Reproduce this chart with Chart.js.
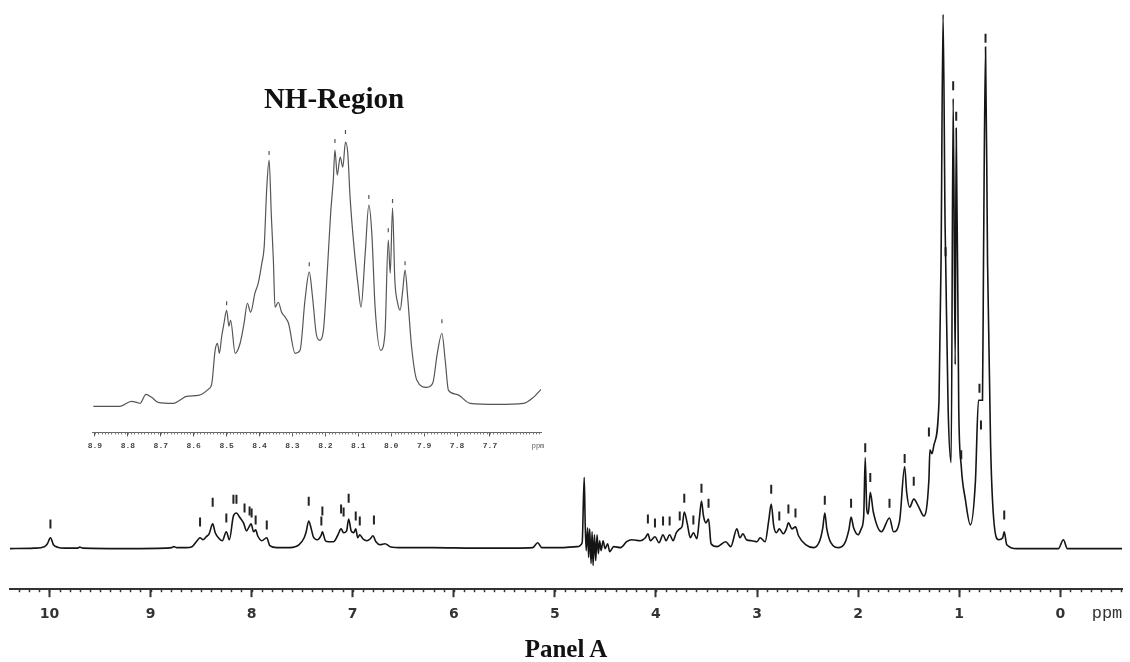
<!DOCTYPE html>
<html>
<head>
<meta charset="utf-8">
<script src="https://cdn.jsdelivr.net/npm/chart.js@4.4.1/dist/chart.umd.min.js"></script>
<style>
  html, body { margin: 0; padding: 0; background: #fff; }
  #wrap { position: relative; width: 1130px; height: 662px; overflow: hidden; }
  canvas { position: absolute; left: 0; top: 0; }
  .lbl { position: absolute; white-space: nowrap; transform: translate(-50%, -50%); }
  #nhTitle { left: 334px; top: 98px; font: bold 29px "Liberation Serif", serif; color: #111; }
  #panelTitle { left: 566px; top: 649px; font: bold 25px "Liberation Serif", serif; color: #111; }
  #ppmMain { left: 1107px; top: 613px; font: 17px "Liberation Mono", monospace; color: #333; }
  #ppmInset { left: 538px; top: 446px; font: 7px "Liberation Mono", monospace; color: #555; }
</style>
</head>
<body>
<div id="wrap">
  <canvas id="mainChart" width="1130" height="662"></canvas>
  <canvas id="insetChart" width="1130" height="662"></canvas>
  <div class="lbl" id="nhTitle">NH-Region</div>
  <div class="lbl" id="ppmInset">ppm</div>
  <div class="lbl" id="ppmMain">ppm</div>
  <div class="lbl" id="panelTitle">Panel A</div>
</div>
<script>
// full spectrum, chemical shift (ppm) and intensity
const mainPpm = [
  10.39, 10.15, 10.05, 10.02, 9.99, 9.96, 9.92, 9.85, 9.72, 9.70, 9.67, 9.2, 8.85, 8.79, 8.77, 8.74,
  8.65, 8.59, 8.54, 8.51, 8.48, 8.45, 8.42, 8.385, 8.36, 8.32, 8.29, 8.25, 8.22, 8.18, 8.15, 8.12,
  8.08, 8.05, 8.025, 8.005, 7.98, 7.96, 7.94, 7.90, 7.85, 7.82, 7.75, 7.62, 7.53, 7.48, 7.46, 7.435,
  7.41, 7.39, 7.35, 7.31, 7.30, 7.27, 7.24, 7.19, 7.15, 7.115, 7.09, 7.06, 7.04, 7.015, 6.99, 6.97,
  6.95, 6.93, 6.90, 6.86, 6.825, 6.80, 6.77, 6.73, 6.68, 6.63, 6.5, 6.2, 5.8, 5.4, 5.22, 5.17, 5.13,
  4.95, 4.78, 4.73, 4.71, 4.70, 4.69, 4.676, 4.666, 4.656, 4.642, 4.632, 4.622, 4.609, 4.596, 4.583,
  4.570, 4.557, 4.543, 4.523, 4.504, 4.478, 4.458, 4.418, 4.35, 4.29, 4.24, 4.155, 4.105, 4.08, 4.055,
  4.01, 3.97, 3.93, 3.90, 3.865, 3.83, 3.80, 3.765, 3.74, 3.72, 3.69, 3.66, 3.63, 3.595, 3.57, 3.55,
  3.53, 3.505, 3.48, 3.455, 3.395, 3.31, 3.26, 3.20, 3.17, 3.14, 3.105, 3.05, 3.00, 2.97, 2.92, 2.885,
  2.86, 2.835, 2.81, 2.78, 2.74, 2.71, 2.69, 2.655, 2.62, 2.59, 2.52, 2.44, 2.38, 2.35, 2.33, 2.31,
  2.27, 2.19, 2.13, 2.09, 2.07, 2.045, 2.00, 1.97, 1.945, 1.93, 1.915, 1.90, 1.88, 1.85, 1.77, 1.69,
  1.65, 1.59, 1.54, 1.52, 1.49, 1.45, 1.40, 1.35, 1.30, 1.29, 1.27, 1.25, 1.20, 1.18, 1.16, 1.14,
  1.135, 1.11, 1.08, 1.06, 1.04, 1.03, 1.005, 0.98, 0.94, 0.89, 0.84, 0.81, 0.77, 0.76, 0.74, 0.72,
  0.69, 0.66, 0.61, 0.57, 0.555, 0.53, 0.43, 0.02, -0.03, -0.07, -0.61
];
const mainIntensity = [
  0, 0.5, 2, 5, 11, 4, 1.5, 0.5, 0.5, 1.5, 0.5, 0, 0.5, 1, 2, 1,
  1, 2, 8, 11, 9, 12, 15, 25, 16, 10, 8, 17, 9, 33, 36, 32,
  26, 18, 22, 25, 17, 19, 13, 8, 11, 3, 1, 1, 4, 11, 17, 28,
  20, 12, 9, 14, 17, 8, 7, 7, 13, 20, 16, 18, 30, 18, 16, 20,
  11, 14, 10, 8, 10, 13, 7, 4, 5, 2, 1, 1, 0.5, 0.5, 1, 6, 1,
  1, 2, 6, 72, 25, -2, 21, -9, 20, -15, 17, -17, 14, -12, 14,
  -5, 8, -2, 8, 0, 5, -3, 2, 1, 7, 9, 8, 11, 15, 8,
  12, 6, 14, 8, 14, 8, 16, 20, 23, 37, 25, 11, 16, 10, 31, 48,
  33, 26, 30, 5, 2, 7, 2, 20, 11, 15, 9, 8, 7, 11, 7, 28,
  45, 23, 16, 20, 15, 20, 26, 20, 22, 13, 4, 1, 8, 21, 36, 20,
  6, 1, 6, 20, 32, 21, 14, 20, 33, 92, 40, 35, 57, 37, 17, 31,
  17, 28, 83, 57, 42, 50, 42, 33, 70, 100, 96, 105, 150, 290, 540, 327,
  297, 142, 87, 455, 186, 425, 142, 83, 50, 24, 68, 150, 150, 290, 507, 290,
  105, 31, 9, 11, 17, 4, 0, 0, 9, 0, 0
];
// peak-pick marks above the full spectrum
const mainMarkPpm = [
  9.99, 8.51, 8.385, 8.25, 8.18, 8.15, 8.07, 8.02, 8.00, 7.96, 7.85, 7.435, 7.31, 7.30, 7.115, 7.09,
  7.04, 6.97, 6.93, 6.79, 4.08, 4.01, 3.93, 3.865, 3.765, 3.72, 3.63, 3.55, 3.48, 2.86, 2.78, 2.69,
  2.62, 2.33, 2.07, 1.93, 1.88, 1.69, 1.54, 1.45, 1.30, 1.135, 1.06, 1.03, 0.98, 0.80, 0.785, 0.74, 0.555
];
const mainMarkLevel = [
  25, 27, 47, 31, 50, 50, 41, 38, 36, 29, 24, 48, 28, 38, 40, 37,
  51, 33, 28, 29, 30, 26, 28, 28, 33, 51, 29, 61, 46, 60, 33, 40,
  36, 49, 46, 102, 72, 46, 91, 68, 118, 300, 468, 437, 95, 162, 125, 516, 34
];
const mainTickValues = [10, 9, 8, 7, 6, 5, 4, 3, 2, 1, 0];

// NH-region expansion
const insetPpm = [
  8.905, 8.824, 8.789, 8.773, 8.763, 8.745, 8.728, 8.708, 8.662, 8.621, 8.586, 8.556, 8.545, 8.535,
  8.528, 8.522, 8.515, 8.508, 8.500, 8.493, 8.488, 8.474, 8.459, 8.447, 8.437, 8.427, 8.414, 8.404,
  8.393, 8.386, 8.378, 8.371, 8.364, 8.358, 8.353, 8.343, 8.333, 8.322, 8.312, 8.292, 8.277, 8.262,
  8.249, 8.239, 8.228, 8.218, 8.206, 8.194, 8.184, 8.176, 8.171, 8.164, 8.155, 8.147, 8.139, 8.132,
  8.125, 8.113, 8.100, 8.092, 8.079, 8.068, 8.059, 8.049, 8.032, 8.019, 8.009, 8.003, 7.996, 7.989,
  7.981, 7.973, 7.965, 7.958, 7.950, 7.938, 7.922, 7.892, 7.874, 7.860, 7.846, 7.836, 7.826, 7.801,
  7.760, 7.679, 7.598, 7.568, 7.545
];
const insetIntensity = [
  0, 0, 5, 4, 3, 12, 9, 4, 3, 10, 11, 17, 23, 56,
  63, 53, 70, 83, 96, 80, 86, 53, 63, 83, 103, 94, 113, 123,
  143, 159, 219, 246, 189, 146, 99, 104, 94, 89, 83, 53, 56, 106,
  134, 109, 73, 66, 76, 136, 193, 226, 256, 231, 249, 239, 264, 253,
  209, 159, 119, 99, 153, 201, 173, 99, 56, 73, 166, 133, 198, 126,
  104, 96, 116, 136, 109, 59, 26, 19, 23, 53, 73, 46, 16, 12,
  3, 2, 3, 9, 17
];
const insetMarkPpm = [8.500, 8.371, 8.249, 8.171, 8.139, 8.068, 8.009, 7.996, 7.958, 7.846];
const insetMarkLevel = [103, 253, 142, 265, 274, 209, 176, 205, 143, 85];
const insetTickValues = [8.9, 8.8, 8.7, 8.6, 8.5, 8.4, 8.3, 8.2, 8.1, 8.0, 7.9, 7.8, 7.7];

const toPoints = (xs, ys) => xs.map((x, i) => ({ x: x, y: ys[i] }));

// small ticks between the labelled ones
const minorTicks = {
  id: 'minorTicks',
  afterDraw(chart, args, opts) {
    const s = chart.scales.x;
    const y0 = chart.chartArea.bottom;
    const ctx = chart.ctx;
    const first = Math.ceil(s.min / opts.step);
    const last = Math.floor(s.max / opts.step);
    ctx.save();
    ctx.strokeStyle = opts.color;
    ctx.lineWidth = opts.width;
    for (let i = first; i <= last; i++) {
      const x = Math.round(s.getPixelForValue(i * opts.step)) + 0.5;
      ctx.beginPath();
      ctx.moveTo(x, y0);
      ctx.lineTo(x, y0 + opts.length);
      ctx.stroke();
    }
    ctx.restore();
  }
};

new Chart(document.getElementById('mainChart').getContext('2d'), {
  type: 'line',
  data: {
    datasets: [{
      data: toPoints(mainPpm, mainIntensity),
      borderColor: '#151515',
      borderWidth: 1.6,
      pointRadius: 0,
      cubicInterpolationMode: 'monotone'
    }, {
      type: 'scatter',
      data: toPoints(mainMarkPpm, mainMarkLevel),
      pointStyle: 'line',
      rotation: 90,
      radius: 4.5,
      borderColor: '#222',
      borderWidth: 2
    }]
  },
  options: {
    responsive: false,
    animation: false,
    devicePixelRatio: 1,
    layout: { padding: { left: 10, right: 8, top: 0, bottom: 30 } },
    scales: {
      x: {
        type: 'linear',
        reverse: true,
        min: -0.61,
        max: 10.39,
        afterBuildTicks: (scale) => { scale.ticks = mainTickValues.map(v => ({ value: v })); },
        ticks: {
          autoSkip: false,
          maxRotation: 0,
          padding: 9,
          color: '#333',
          font: { family: 'DejaVu Sans', size: 14, weight: 'bold' },
          callback: (v) => String(v)
        },
        grid: { drawOnChartArea: false, tickLength: 8, tickWidth: 2, tickColor: '#333' },
        border: { display: true, color: '#333', width: 2 }
      },
      y: { display: false, min: -41, max: 548 }
    },
    plugins: {
      legend: { display: false },
      tooltip: { enabled: false },
      minorTicks: { step: 0.1, length: 3, color: '#333', width: 1.5 }
    }
  },
  plugins: [minorTicks]
});

new Chart(document.getElementById('insetChart').getContext('2d'), {
  type: 'line',
  data: {
    datasets: [{
      data: toPoints(insetPpm, insetIntensity),
      borderColor: '#555',
      borderWidth: 1.2,
      pointRadius: 0,
      cubicInterpolationMode: 'monotone'
    }, {
      type: 'scatter',
      data: toPoints(insetMarkPpm, insetMarkLevel),
      pointStyle: 'line',
      rotation: 90,
      radius: 2,
      borderColor: '#555',
      borderWidth: 1.2
    }]
  },
  options: {
    responsive: false,
    animation: false,
    devicePixelRatio: 1,
    layout: { padding: { left: 92, right: 589, top: 130, bottom: 206 } },
    scales: {
      x: {
        type: 'linear',
        reverse: true,
        min: 7.545,
        max: 8.909,
        afterBuildTicks: (scale) => { scale.ticks = insetTickValues.map(v => ({ value: v })); },
        ticks: {
          autoSkip: false,
          maxRotation: 0,
          padding: 5,
          color: '#444',
          font: { family: 'Liberation Mono', size: 8, weight: 'bold' },
          callback: (v) => Number(v).toFixed(1)
        },
        grid: { drawOnChartArea: false, tickLength: 4, tickWidth: 1, tickColor: '#555' },
        border: { display: true, color: '#666', width: 1 }
      },
      y: { display: false, min: -26, max: 276 }
    },
    plugins: {
      legend: { display: false },
      tooltip: { enabled: false },
      minorTicks: { step: 0.01, length: 2, color: '#777', width: 1 }
    }
  },
  plugins: [minorTicks]
});
</script>
</body>
</html>
